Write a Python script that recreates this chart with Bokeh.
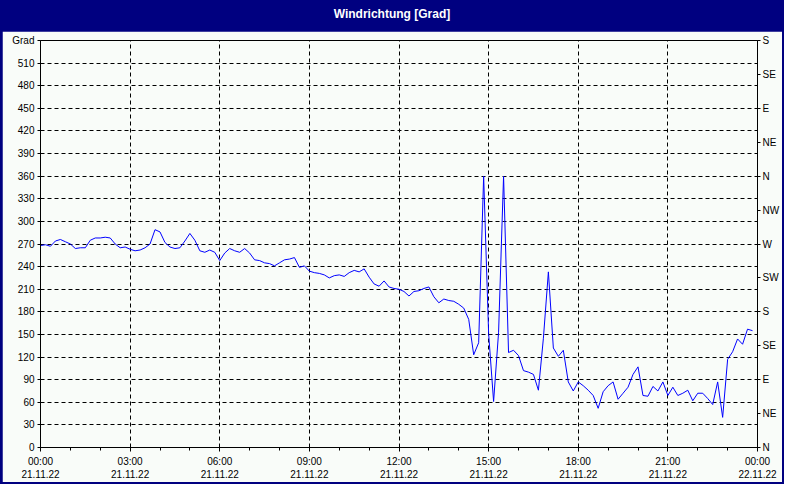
from bokeh.plotting import figure
from bokeh.models import Range1d, LinearAxis, FixedTicker, Div
from bokeh.layouts import column
from bokeh.embed import file_html
from bokeh.resources import INLINE

# ---------------- data ----------------
title_text = "Windrichtung [Grad]"
sample_minutes = 10  # one reading every 10 minutes, starting 21.11.22 00:00
wind_dir = [
    268, 269, 267, 274, 276, 273, 270, 264, 265, 265,
    275, 278, 278, 279, 278, 270, 265, 266, 263, 261,
    262, 265, 270, 289, 286, 272, 266, 264, 265, 274,
    284, 275, 261, 259, 262, 259, 248, 258, 264, 261,
    259, 264, 258, 249, 248, 245, 244, 241, 245, 249,
    250, 252, 239, 241, 234, 232, 231, 229, 225, 228,
    229, 227, 232, 235, 233, 237, 226, 217, 214, 221,
    213, 211, 210, 207, 201, 207, 208, 211, 213, 200,
    192, 197, 195, 194, 190, 185, 170, 123, 139, 360,
    151, 61, 153, 360, 126, 129, 122, 102, 100, 97,
    76, 145, 233, 132, 121, 129, 87, 75, 87, 82,
    76, 69, 52, 74, 82, 87, 64, 72, 80, 97,
    107, 69, 68, 81, 75, 87, 69, 80, 69, 72,
    76, 62, 72, 72, 65, 57, 87, 40, 117, 127,
    144, 137, 157, 155,
]
hours = [i * sample_minutes / 60 for i in range(len(wind_dir))]

x_ticks = [0, 3, 6, 9, 12, 15, 18, 21, 24]
x_tick_labels = [
    "00:00\n21.11.22", "03:00\n21.11.22", "06:00\n21.11.22", "09:00\n21.11.22",
    "12:00\n21.11.22", "15:00\n21.11.22", "18:00\n21.11.22", "21:00\n21.11.22",
    "00:00\n22.11.22",
]
x_minor_ticks = list(range(0, 25))
y_ticks = list(range(0, 511, 30)) + [540]
y_tick_labels = [str(v) for v in range(0, 511, 30)] + ["Grad"]
compass_ticks = list(range(0, 541, 45))
compass_labels = ["N", "NE", "E", "SE", "S", "SW", "W", "NW", "N", "NE", "E", "SE", "S"]

# ---------------- style ----------------
BG = "#F9FCF9"
NAVY = "#000080"
FONT = "Liberation Sans"

p = figure(
    width=780, height=451,
    output_backend="svg", toolbar_location=None,
    x_range=Range1d(0, 24), y_range=Range1d(0, 540),
    min_border_left=38, min_border_right=22, min_border_top=9, min_border_bottom=30,
    background_fill_color=BG, border_fill_color=BG,
    outline_line_color="black", outline_line_width=1,
    margin=(0, 2, 2, 2),
)

# bottom axis
xa = p.xaxis[0]
xa.ticker = FixedTicker(ticks=x_ticks, minor_ticks=x_minor_ticks)
xa.major_label_overrides = dict(zip(x_ticks, x_tick_labels))
xa.major_tick_in = 0
xa.major_tick_out = 4
xa.minor_tick_in = 0
xa.minor_tick_out = 3
xa.major_label_standoff = 4

# left axis
ya = p.yaxis[0]
ya.ticker = FixedTicker(ticks=y_ticks)
ya.major_label_overrides = dict(zip(y_ticks, y_tick_labels))
ya.major_tick_in = 0
ya.major_tick_out = 3
ya.minor_tick_out = 0
ya.minor_tick_in = 0
ya.major_label_standoff = 3

# right compass axis
ra = LinearAxis(ticker=FixedTicker(ticks=compass_ticks))
ra.major_label_overrides = dict(zip(compass_ticks, compass_labels))
ra.major_tick_in = 0
ra.major_tick_out = 3
ra.minor_tick_in = 0
ra.minor_tick_out = 0
ra.major_label_standoff = 2
p.add_layout(ra, "right")

for ax in (xa, ya, ra):
    ax.axis_line_color = "black"
    ax.major_tick_line_color = "black"
    ax.minor_tick_line_color = "black"
    ax.major_label_text_font = FONT
    ax.major_label_text_font_size = "10px"
    ax.major_label_text_color = "black"

for g in (p.xgrid[0], p.ygrid[0]):
    g.grid_line_color = "black"
    g.grid_line_dash = "4 3"
    g.grid_line_width = 1
    g.grid_line_alpha = 1.0

p.line(hours, wind_dir, line_color="#0000FF", line_width=1)

title = Div(
    text=(
        '<div style="width:784px;height:31px;line-height:29px;text-align:center;'
        'color:white;font-family:\'Liberation Sans\',sans-serif;font-weight:bold;'
        f'font-size:12px;">{title_text}</div>'
    ),
    width=784, height=31, margin=0,
    styles={"background-color": NAVY},
)

layout = column(title, p, spacing=0, margin=0, styles={"background-color": NAVY})

open("out.html", "w").write(file_html(layout, INLINE))
